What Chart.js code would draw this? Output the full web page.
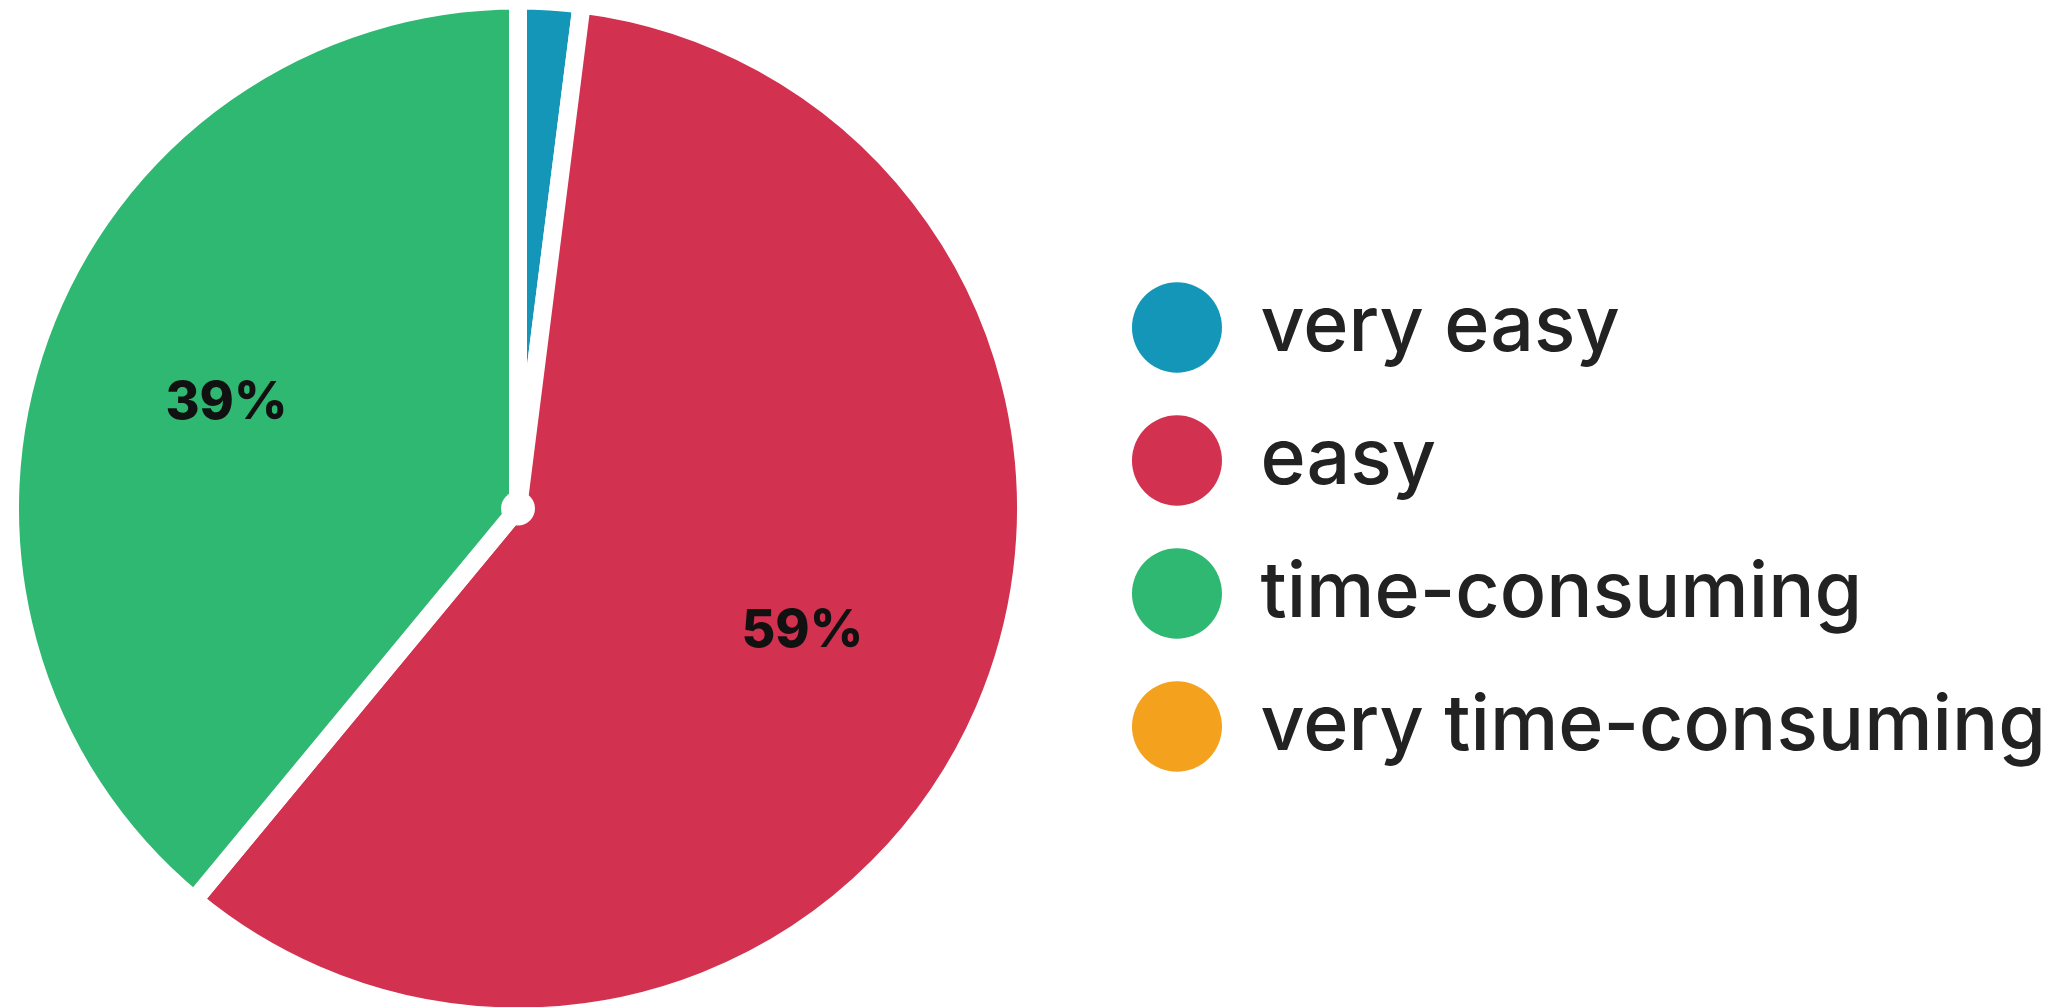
<!DOCTYPE html>
<html>
<head>
<meta charset="utf-8">
<title>Effort pie</title>
<script src="https://cdn.jsdelivr.net/npm/chart.js@4.4.1/dist/chart.umd.min.js"></script>
<style>
    html, body { margin: 0; padding: 0; background: #fff; overflow: hidden; }
    /* canvas starts a little left of the page so the pie sits where it does in the picture */
    .chart-wrap { width: 2096px; height: 1007px; margin-left: -40px; position: relative; }
</style>
</head>
<body>
<div class="chart-wrap"><canvas id="pieChart"></canvas></div>
<script>
// Data
const categories = ['very easy', 'easy', 'time-consuming', 'very time-consuming'];
const shares = [2, 59, 39, 0];
const sliceColors = ['#1396b8', '#d2314f', '#2eb872', '#f4a11e'];

// Constants
const FONT = 'Inter, "DejaVu Sans", sans-serif';
const LEGEND_TEXT_WIDTH = 790;
const LEGEND_STEP = 132.6;

// size the legend font so the longest label is as wide as in the picture
function fitLegendFontSize() {
    const ctx = document.createElement('canvas').getContext('2d');
    ctx.font = `500 72px ${FONT}`;
    const longest = Math.max(...categories.map(c => ctx.measureText(c).width));
    return Math.round(72 * LEGEND_TEXT_WIDTH / longest);
}

// percent labels inside the slices + white hub in the middle
const sliceLabels = {
    id: 'sliceLabels',
    afterDatasetsDraw(chart) {
        const ctx = chart.ctx;
        const meta = chart.getDatasetMeta(0);
        const total = shares.reduce((a, b) => a + b, 0);
        ctx.save();
        ctx.font = `800 52px ${FONT}`;
        ctx.fillStyle = '#111';
        ctx.textAlign = 'center';
        ctx.textBaseline = 'middle';
        meta.data.forEach((arc, i) => {
            const pct = shares[i] / total * 100;
            if (pct < 5) return;
            const mid = (arc.startAngle + arc.endAngle) / 2;
            const r = arc.outerRadius * 0.61;
            ctx.fillText(Math.round(pct) + '%', arc.x + Math.cos(mid) * r, arc.y + Math.sin(mid) * r);
        });
        const hub = meta.data[0];
        ctx.beginPath();
        ctx.arc(hub.x, hub.y, 17, 0, Math.PI * 2);
        ctx.fillStyle = '#fff';
        ctx.fill();
        ctx.restore();
    }
};

function initializeChart() {
    const fontSize = fitLegendFontSize();
    const baseLabels = Chart.overrides.doughnut.plugins.legend.labels.generateLabels;

    new Chart(document.getElementById('pieChart'), {
        type: 'pie',
        data: {
            labels: categories,
            datasets: [{
                data: shares,
                backgroundColor: sliceColors,
                borderColor: '#ffffff',
                borderWidth: 18,
                borderJoinStyle: 'round'
            }]
        },
        options: {
            responsive: true,
            maintainAspectRatio: false,
            animation: false,
            radius: 508,
            layout: { padding: { top: 10 } },
            plugins: {
                tooltip: { enabled: false },
                legend: {
                    position: 'right',
                    title: { display: true, text: '', padding: 13, font: { size: 11, lineHeight: 1 } },
                    labels: {
                        usePointStyle: true,
                        pointStyle: 'circle',
                        pointStyleWidth: 90,
                        boxHeight: 64,
                        padding: Math.round(LEGEND_STEP - fontSize),
                        color: '#222222',
                        font: { family: FONT, size: fontSize, weight: '500' },
                        generateLabels: chart => baseLabels(chart).map(l => ({ ...l, lineWidth: 0 }))
                    }
                }
            }
        },
        plugins: [sliceLabels]
    });
}

document.addEventListener('DOMContentLoaded', () => {
    document.fonts.load(`500 72px ${FONT}`).then(initializeChart, initializeChart);
});
</script>
</body>
</html>
